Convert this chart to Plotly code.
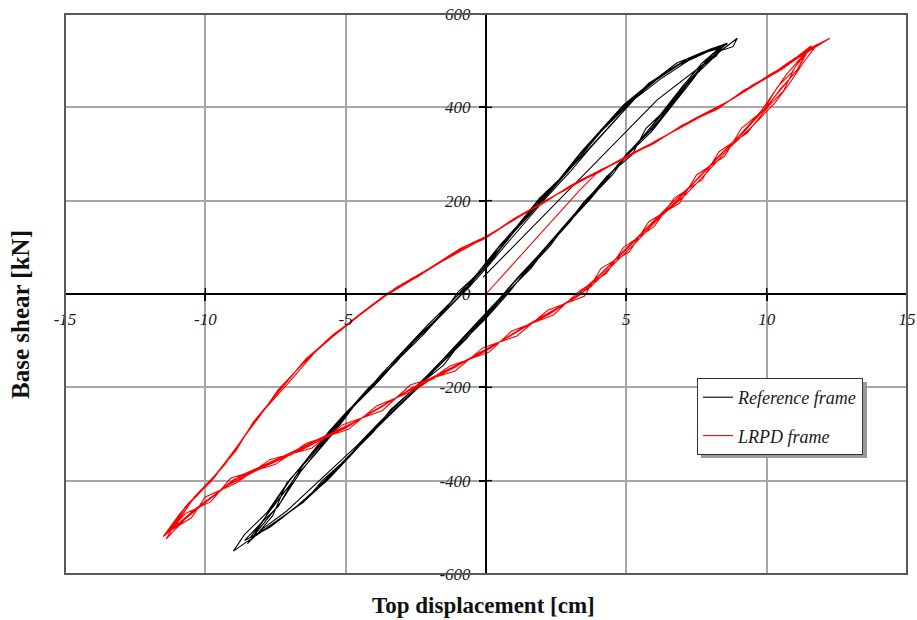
import plotly.graph_objects as go

# ---------------- data ----------------
ref_x = [
    # cycle 1 (incl. first loading)
    -0.1, 6.1, 8.95, 8.8, 8.3, 7.8, 7.2, 6.5, 5.8, 5.1, 4.3, 3.5, 2.9, 2.1, 1.5, 0.7, 0.0, -0.9, -1.6, -2.5,
    -3.3, -4.2, -4.9, -5.8, -6.5, -7.5, -8.4, -9.0, -8.6, -7.8, -7.0, -6.3, -5.5, -4.9, -4.0, -3.3, -2.4,
    -1.7, -0.8, -0.2, 0.6, 1.2, 2.0, 2.7, 3.5, 4.1, 5.0, 5.8, 6.9, 7.7, 8.5,
    # cycle 2
    7.9, 7.4, 6.7, 5.9, 5.0, 4.5, 3.7, 2.8, 2.3, 1.4, 0.8, -0.1, -0.7, -1.7, -2.4, -3.2, -4.2, -4.8, -5.6,
    -6.6, -7.3, -8.2, -7.6, -7.1, -6.2, -5.7, -4.8, -4.2, -3.2, -2.6, -1.6, -1.0, -0.1, 0.4, 1.3, 1.8, 2.8,
    3.3, 4.2, 4.8, 5.9, 6.7, 7.7, 8.3,
    # cycle 3
    7.7, 7.1, 6.4, 5.7, 5.2, 4.3, 3.5, 3.0, 2.1, 1.6, 0.6, 0.1, -0.8, -1.5, -2.6, -3.4, -4.0, -5.0, -5.8,
    -6.4, -7.5, -8.4, -7.7, -6.9, -6.4, -5.6, -5.0, -4.0, -3.4, -2.5, -1.8, -0.9, -0.3, 0.5, 1.1, 1.9, 2.6,
    3.4, 4.0, 4.9, 5.7, 6.8, 7.5, 8.4,
    # cycle 4
    8.0, 7.3, 6.6, 5.9, 5.0, 4.4, 3.7, 2.9, 2.2, 1.4, 0.8, 0.0, -0.8, -1.6, -2.4, -3.3, -4.1, -4.9, -5.7,
    -6.6, -7.4, -8.3, -7.8, -7.0, -6.3, -5.6, -4.9, -4.2, -3.3, -2.5, -1.7, -0.9, -0.2, 0.5, 1.2, 1.9, 2.7,
    3.4, 4.1, 4.9, 5.8, 6.8, 7.6, 8.6,
    # cycle 5
    8.1, 7.6, 6.9, 6.2, 5.6, 4.6, 4.0, 3.2, 2.5, 1.8, 1.0, 0.3, -0.4, -1.3, -2.1, -3.0, -3.8, -4.6, -5.4,
    -6.2, -7.1, -8.0, -8.5, -7.9, -7.3, -6.6, -6.0, -5.2, -4.5, -3.7, -2.9, -2.1, -1.3, -0.6, 0.2, 0.8,
    1.6, 2.3, 3.1, 3.8, 4.6, 5.4, 6.3, 7.2, 8.0, 8.5,
    # cycle 6
    8.2, 7.5, 7.0, 6.2, 5.7, 4.8, 4.2, 3.3, 2.7, 1.9, 1.2, 0.4, -0.3, -1.1, -1.9, -2.7, -3.5, -4.4, -5.1,
    -6.0, -6.8, -7.7, -8.6, -8.0, -7.4, -6.8, -6.1, -5.3, -4.7, -3.8, -3.1, -2.2, -1.5, -0.6, 0.1, 0.8,
    1.5, 2.2, 3.0, 3.7, 4.5, 5.3, 6.2, 7.2, 8.0, 8.6,
]
ref_y = [
    36, 416, 548, 530, 520, 495, 455, 400, 352, 302, 248, 198, 152, 98, 52, -2, -48, -102, -148, -203,
    -250, -302, -348, -405, -446, -488, -524, -551, -515, -468, -398, -352, -297, -252, -198, -150, -97,
    -52, 3, 48, 103, 148, 203, 248, 305, 348, 402, 448, 492, 516, 532,
    505, 462, 410, 348, 296, 255, 205, 146, 104, 46, 5, -53, -96, -155, -197, -246, -305, -345, -396,
    -450, -480, -518, -475, -405, -346, -305, -245, -205, -146, -104, -46, 4, 54, 96, 155, 196, 255,
    296, 355, 396, 455, 486, 518, 526,
    495, 452, 395, 355, 298, 252, 195, 155, 95, 55, -5, -45, -95, -152, -205, -248, -295, -355, -398,
    -440, -490, -522, -465, -402, -355, -295, -255, -195, -155, -95, -55, 5, 45, 105, 145, 205, 245,
    305, 345, 405, 445, 495, 512, 528,
    500, 460, 403, 352, 300, 253, 202, 150, 102, 48, 2, -52, -100, -148, -200, -252, -298, -350, -402,
    -448, -485, -520, -472, -400, -348, -302, -250, -202, -150, -98, -50, -2, 52, 98, 152, 198, 250,
    298, 352, 398, 452, 490, 514, 538,
    515, 480, 430, 375, 335, 270, 230, 172, 125, 75, 25, -25, -70, -125, -175, -228, -275, -325, -370,
    -415, -465, -505, -535, -490, -445, -380, -335, -275, -225, -170, -118, -68, -20, 20, 72, 120,
    172, 220, 275, 320, 372, 425, 470, 505, 525, 535,
    510, 480, 445, 385, 345, 285, 240, 182, 140, 85, 40, -15, -60, -112, -165, -215, -262, -318, -360,
    -415, -458, -500, -528, -490, -455, -392, -345, -288, -240, -185, -138, -85, -38, 15, 62, 112,
    162, 210, 262, 312, 365, 418, 460, 500, 522, 535,
]

lrpd_x = [
    # cycle 1 (incl. first loading)
    0.0, 3.3, 4.0, 5.0, 6.0, 7.0, 8.3, 9.2, 10.0, 10.8, 12.25, 11.5, 11.1, 10.5, 10.0, 9.2, 8.4, 7.6, 6.8,
    5.9, 5.0, 4.2, 3.4, 2.3, 1.0, 0.0, -1.2, -2.6, -3.8, -5.0, -6.3, -7.6, -9.0, -9.9, -10.6, -11.4, -10.7,
    -9.8, -9.0, -8.2, -7.3, -6.4, -5.5, -4.5, -3.5, -2.4, -1.2, 0.0, 1.0, 2.0, 3.0, 4.0, 5.0, 6.0, 7.0,
    8.3, 9.2, 10.0, 10.8, 11.4,
    # cycle 2
    10.9, 10.4, 9.9, 9.1, 8.5, 7.5, 6.9, 5.8, 5.1, 4.1, 3.5, 2.2, 1.1, -0.1, -1.1, -2.7, -3.7, -5.1, -6.2,
    -7.7, -8.9, -10.0, -10.5, -11.2, -10.5, -9.9, -8.9, -8.3, -7.2, -6.5, -5.4, -4.6, -3.4, -2.5, -1.1,
    -0.1, 1.1, 1.9, 3.1, 3.9, 5.1, 5.9, 7.1, 8.2, 9.3, 9.9, 10.9, 11.6,
    # cycle 3
    11.0, 10.6, 10.1, 9.3, 8.3, 7.7, 6.7, 6.0, 4.9, 4.3, 3.3, 2.4, 0.9, 0.1, -1.3, -2.5, -3.9, -4.9, -6.4,
    -7.5, -9.1, -9.8, -10.7, -11.4, -10.7, -9.7, -9.1, -8.1, -7.4, -6.3, -5.6, -4.4, -3.6, -2.3, -1.3, 0.1,
    0.9, 2.1, 2.9, 4.1, 4.9, 6.1, 6.9, 8.4, 9.1, 10.1, 10.7, 11.5,
    # cycle 4
    11.1, 10.5, 10.0, 9.2, 8.4, 7.6, 6.8, 5.9, 5.0, 4.2, 3.4, 2.3, 1.0, 0.0, -1.2, -2.6, -3.8, -5.0, -6.3,
    -7.6, -9.0, -9.9, -10.6, -11.3, -10.6, -9.8, -9.0, -8.2, -7.3, -6.4, -5.5, -4.5, -3.5, -2.4, -1.2, 0.0,
    1.0, 2.0, 3.0, 4.0, 5.0, 6.0, 7.0, 8.3, 9.2, 10.0, 10.8, 11.8,
    # cycle 5
    11.3, 10.8, 10.3, 9.5, 8.7, 7.9, 7.1, 6.2, 5.3, 4.5, 3.7, 2.6, 1.3, 0.3, -0.9, -2.3, -3.5, -4.7, -6.0,
    -7.3, -8.7, -9.6, -10.4, -11.1, -10.4, -9.6, -8.8, -8.0, -7.0, -6.1, -5.2, -4.2, -3.2, -2.1, -0.9, 0.3,
    1.3, 2.3, 3.3, 4.3, 5.3, 6.3, 7.4, 8.6, 9.5, 10.3, 11.0, 11.7,
    # cycle 6
    11.2, 10.7, 10.2, 9.8, 9.0, 8.2, 7.4, 6.5, 5.7, 4.8, 4.0, 3.1, 2.0, 0.8, -0.3, -1.5, -2.9, -4.1, -5.3,
    -6.6, -7.9, -9.2, -10.1, -10.8, -11.5, -10.9, -10.1, -9.3, -8.5, -7.6, -6.7, -5.8, -4.8, -3.8, -2.7,
    -1.5, -0.3, 0.7, 1.7, 2.7, 3.7, 4.7, 5.7, 6.7, 7.9, 8.9, 9.7, 10.5, 11.4,
]
lrpd_y = [
    0, 220, 262, 293, 325, 360, 400, 435, 465, 495, 548, 525, 480, 440, 400, 350, 300, 250, 200,
    150, 95, 50, 0, -40, -85, -120, -160, -200, -245, -285, -325, -360, -400, -440, -475, -525, -455,
    -400, -340, -270, -200, -140, -90, -45, 0, 40, 85, 122, 160, 195, 230, 262, 293, 325, 360,
    400, 435, 465, 495, 522,
    475, 445, 395, 355, 295, 255, 195, 155, 90, 55, -5, -35, -90, -115, -165, -195, -250, -280, -330,
    -355, -405, -435, -480, -505, -445, -405, -335, -275, -195, -145, -85, -50, 5, 35, 90,
    117, 165, 190, 235, 257, 298, 320, 365, 395, 440, 460, 500, 532,
    485, 435, 405, 345, 305, 245, 205, 145, 100, 45, 5, -45, -80, -125, -155, -205, -240, -290, -320,
    -365, -395, -445, -470, -515, -455, -395, -345, -265, -205, -135, -95, -40, -5, 45, 80, 127,
    155, 200, 225, 267, 288, 330, 355, 405, 430, 470, 490, 528,
    482, 438, 402, 348, 302, 252, 198, 152, 97, 48, 2, -42, -83, -122, -158, -202, -243, -287, -323,
    -362, -398, -442, -473, -510, -448, -402, -338, -272, -202, -138, -92, -43, 2, 38, 87, 120,
    162, 193, 232, 260, 295, 323, 362, 398, 437, 463, 497, 535,
    495, 450, 410, 360, 315, 262, 212, 165, 108, 62, 14, -28, -72, -110, -148, -190, -232, -275, -312,
    -350, -388, -428, -462, -500, -435, -385, -322, -255, -188, -125, -78, -30, 14, 52, 98, 132,
    172, 205, 242, 272, 305, 335, 375, 412, 448, 475, 505, 530,
    505, 470, 428, 392, 338, 290, 238, 188, 140, 85, 38, -10, -50, -92, -128, -170, -212, -255, -295,
    -335, -370, -410, -452, -485, -520, -470, -420, -365, -295, -225, -160, -108, -60, -12, 28,
    72, 112, 148, 185, 220, 252, 283, 315, 350, 388, 422, 452, 480, 518,
]

series_names = ["Reference frame", "LRPD frame"]
x_ticks = [-15, -10, -5, 5, 10, 15]
x_ticktext = ["-15", "-10", "-5", "5", "10", "15"]
y_ticks = [-600, -400, -200, 0, 200, 400, 600]
y_ticktext = ["-600", "-400", "-200", "0", "200", "400", "600"]

# ---------------- figure ----------------
SERIF = "Liberation Serif"
W, H = 917, 620
ML, MR, MT, MB = 65, 10, 14, 46
PW, PH = W - ML - MR, H - MT - MB
TL = 6  # tick length (px)


def px(xp):  # page pixel -> paper x
    return (xp - ML) / PW


def py(yp):  # page pixel -> paper y
    return (H - MB - yp) / PH


fig = go.Figure()
fig.add_trace(go.Scatter(x=ref_x, y=ref_y, mode="lines", name=series_names[0],
                         line=dict(color="#000000", width=1.1), legendgroup="a"))
fig.add_trace(go.Scatter(x=lrpd_x, y=lrpd_y, mode="lines", name=series_names[1],
                         line=dict(color="#ff0000", width=1.1), legendgroup="b"))

tickfont = dict(family=SERIF, size=17, color="#1a1a1a", style="italic")

common = dict(showgrid=True, gridcolor="#a6a6a6", gridwidth=1.5,
              zeroline=False, anchor="free", position=0.5, automargin=False,
              showline=True, linecolor="#000000", linewidth=2,
              ticks="outside", ticklen=TL, tickwidth=1.5, tickcolor="#000000",
              ticklabeloverflow="allow", tickfont=tickfont, fixedrange=True)

fig.update_layout(
    width=W, height=H,
    margin=dict(l=ML, r=MR, t=MT, b=MB, autoexpand=False),
    paper_bgcolor="white", plot_bgcolor="white",
    xaxis=dict(range=[-15, 15], tickvals=x_ticks, ticktext=x_ticktext,
               ticklabelstandoff=4, **common),
    yaxis=dict(range=[-600, 600], tickvals=y_ticks, ticktext=y_ticktext,
               ticklabelstandoff=5, **common),
    showlegend=True,
    legend=dict(x=px(697), y=py(378), xanchor="left", yanchor="top",
                bgcolor="white", bordercolor="#333333", borderwidth=1,
                font=dict(family=SERIF, size=18, color="#1a1a1a", style="italic"),
                traceorder="grouped", tracegroupgap=12, itemwidth=30),
)

# inner halves of the crossing tick marks on the zero axes
for xv in x_ticks:
    fig.add_shape(type="line", xref="x", yref="paper", x0=xv, x1=xv,
                  y0=0.5, y1=0.5 + TL / PH, line=dict(color="#000000", width=1.5))
for yv in y_ticks:
    fig.add_shape(type="line", xref="paper", yref="y", y0=yv, y1=yv,
                  x0=0.5, x1=0.5 + TL / PW, line=dict(color="#000000", width=1.5))

# frame around plotting area
fig.add_shape(type="rect", xref="paper", yref="paper", x0=0, y0=0, x1=1, y1=1,
              line=dict(color="#595959", width=2), layer="above")
# legend shadow
fig.add_shape(type="rect", xref="paper", yref="paper",
              x0=px(701), x1=px(867), y0=py(458), y1=py(382),
              line=dict(width=0), fillcolor="#9a9a9a", layer="above")

# axis titles
fig.add_annotation(text="<b>Top displacement [cm]</b>", xref="paper", yref="paper",
                   x=px(483), y=py(605), showarrow=False,
                   xanchor="center", yanchor="middle",
                   font=dict(family=SERIF, size=23, color="#111111"))
fig.add_annotation(text="<b>Base shear [kN]</b>", xref="paper", yref="paper",
                   x=px(20), y=py(315), showarrow=False, textangle=-90,
                   xanchor="center", yanchor="middle",
                   font=dict(family=SERIF, size=25, color="#111111"))

# remove the browser's default 8 px body margin so the figure fills the window
fig.write_html("out.html",
               config={"displayModeBar": False},
               post_script="document.body.style.margin='0px';document.body.style.overflow='hidden';")
